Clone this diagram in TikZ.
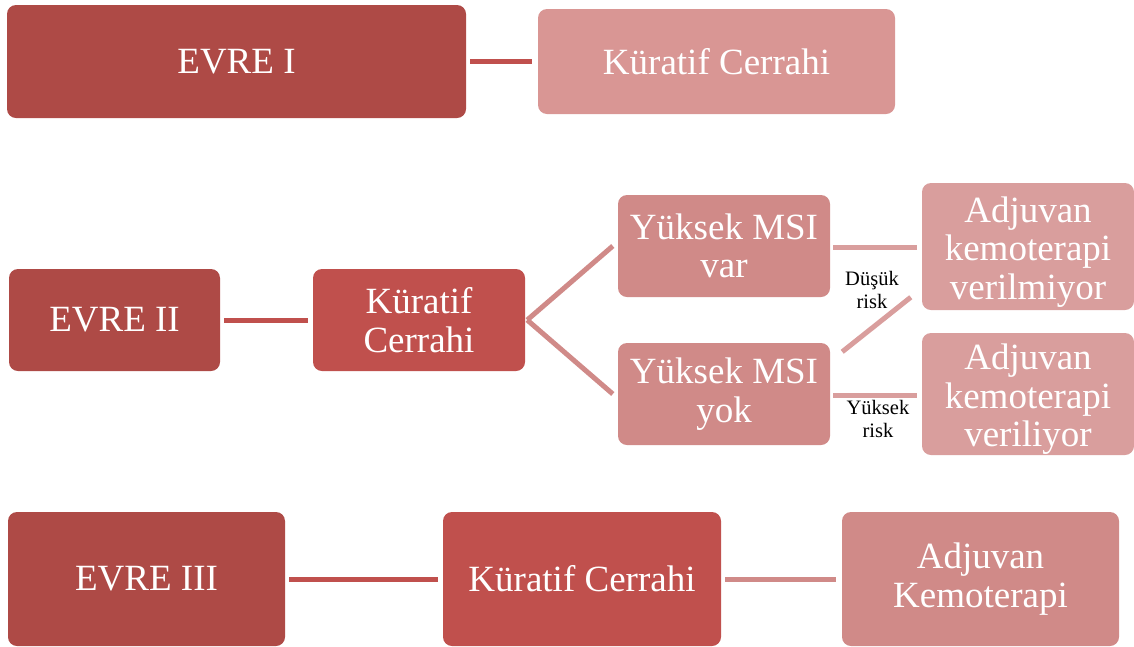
\documentclass[tikz,border=0pt]{standalone}
\usepackage{fontspec}
\setmainfont{Liberation Serif}
\definecolor{cdark}{HTML}{AE4A46}
\definecolor{cmed}{HTML}{C0504D}
\definecolor{cpinkA}{HTML}{D99694}
\definecolor{cpinkB}{HTML}{D08A88}
\definecolor{cpinkC}{HTML}{D99E9D}
\tikzset{
  box/.style={rounded corners=9pt, inner sep=0pt, align=center, text=white,
    font=\fontsize{37}{38.5}\selectfont},
  conn/.style={line width=5pt},
  risk/.style={inner sep=0pt, align=center, text=black, font=\fontsize{20.5}{23.5}\selectfont}
}
\begin{document}
\begin{tikzpicture}[x=1pt,y=-1pt]
\useasboundingbox (0,0) rectangle (1134,646);
% row I
\node[box, fill=cdark, minimum width=459pt, minimum height=113pt] (e1) at (236.5,61.5) {EVRE I};
\node[box, fill=cpinkA, minimum width=357pt, minimum height=105pt] (k1) at (716.5,61.5) {Küratif Cerrahi};
% row II
\node[box, fill=cdark, minimum width=211pt, minimum height=102pt] (e2) at (114.5,320) {EVRE II};
\node[box, fill=cmed, minimum width=212pt, minimum height=102pt] (k2) at (419,320) {Küratif\\Cerrahi};
\node[box, fill=cpinkB, minimum width=212pt, minimum height=102pt] (mv) at (724,246) {Yüksek MSI\\var};
\node[box, fill=cpinkB, minimum width=212pt, minimum height=102pt] (my) at (724,394) {Yüksek MSI\\yok};
\node[box, fill=cpinkC, minimum width=212pt, minimum height=127pt] (a1) at (1028,246.5) {\rule{0pt}{36pt}Adjuvan\\kemoterapi\\verilmiyor};
\node[box, fill=cpinkC, minimum width=212pt, minimum height=122pt] (a2) at (1028,394) {\rule{0pt}{36pt}Adjuvan\\kemoterapi\\veriliyor};
\node[risk] (r1) at (872,290) {Düşük\\risk};
\node[risk] (r2) at (878,419) {Yüksek\\risk};
% row III
\node[box, fill=cdark, minimum width=277pt, minimum height=134pt] (e3) at (146.5,579) {EVRE III};
\node[box, fill=cmed, minimum width=278pt, minimum height=134pt] (k3) at (582,579) {Küratif Cerrahi};
\node[box, fill=cpinkB, minimum width=277pt, minimum height=134pt] (a3) at (980.5,579) {Adjuvan\\Kemoterapi};
% connectors
\draw[conn, color=cmed, shorten <=4pt, shorten >=6pt] (e1.east) -- (e1.east -| k1.west);
\draw[conn, color=cmed, shorten <=4pt, shorten >=5pt] (e2) -- (k2);
\draw[conn, color=cpinkB] ([xshift=2pt]k2.east) -- ([xshift=-5pt]mv.west);
\draw[conn, color=cpinkB] ([xshift=2pt]k2.east) -- ([xshift=-5pt]my.west);
\draw[conn, color=cpinkC, shorten <=3pt, shorten >=5pt] ([yshift=-1pt]mv.east) -- ([yshift=-1pt]mv.east -| a1.west);
\draw[conn, color=cpinkC, shorten <=3pt, shorten >=5pt] ([yshift=-1pt]my.east) -- ([yshift=-1pt]my.east -| a2.west);
\draw[conn, color=cpinkC] ([shift={(12,9)}]my.north east) -- ([shift={(-11,-13)}]a1.south west);
\draw[conn, color=cmed, shorten <=4pt, shorten >=5pt] (e3) -- (k3);
\draw[conn, color=cpinkB, shorten <=4pt, shorten >=6pt] (k3) -- (a3);
\end{tikzpicture}
\end{document}
